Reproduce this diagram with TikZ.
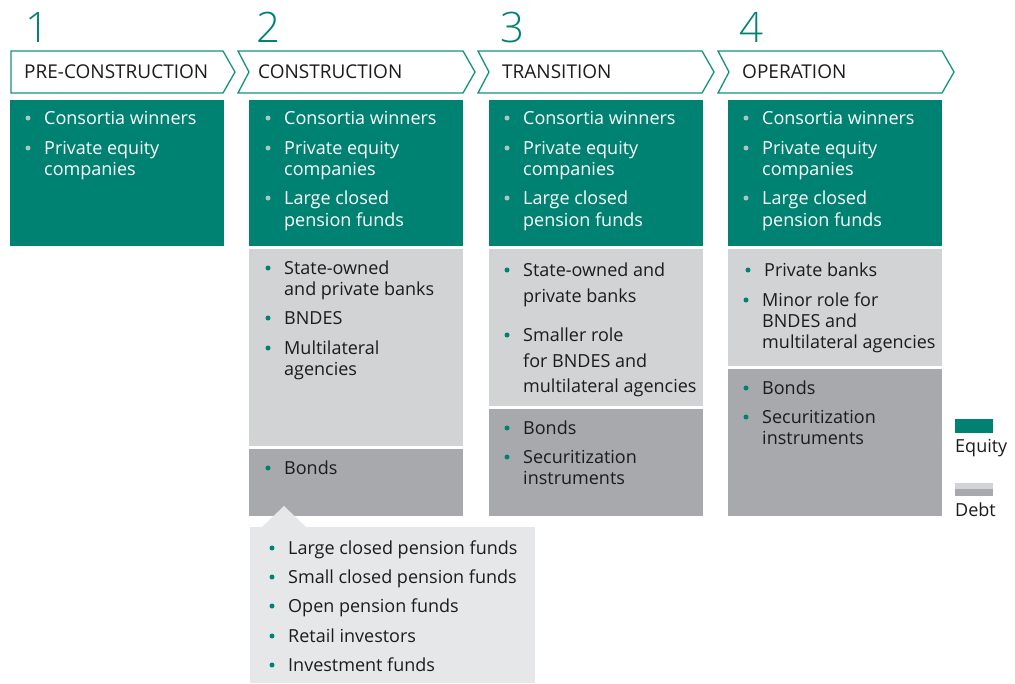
\documentclass[tikz,border=0pt]{standalone}
\usepackage{fontspec}
\setmainfont{Open Sans}
\newfontfamily\numfont{Open Sans Light}
\definecolor{eqgreen}{RGB}{0,130,114}
\definecolor{chevline}{RGB}{20,145,130}
\definecolor{eqdot}{RGB}{170,200,195}
\definecolor{lightdebt}{RGB}{209,211,212}
\definecolor{darkdebt}{RGB}{167,169,172}
\definecolor{popbg}{RGB}{230,231,232}
\definecolor{inkdark}{RGB}{30,27,28}

\tikzset{
  box/.style={anchor=north west, inner sep=0, outer sep=0, draw=none},
  chev/.style={draw=chevline, line width=1.3pt, fill=white, line join=miter},
  title/.style={anchor=base west, inner sep=0, font=\fontsize{19}{22}\selectfont, text=inkdark},
  num/.style={anchor=base west, inner sep=0, font=\numfont\fontsize{42}{46}\selectfont, text=eqgreen},
  txt/.style={anchor=base west, inner sep=0, font=\fontsize{18}{21}\selectfont, text=inkdark},
  dot/.style={circle, inner sep=0, minimum size=5pt, fill=eqgreen},
}

% bullet item: name, bullet x, line centre y, text
\newcommand\bul[4]{%
  \node[dot] (#1d) at (#2,#3) {};
  \node[txt] (#1) at (#2+16,#3+6) {#4};}
% continuation line of an item: name, bullet x, line centre y, text
\newcommand\cnt[4]{%
  \node[txt] (#1) at (#2+16,#3+6) {#4};}

\begin{document}
\begin{tikzpicture}[x=1pt,y=-1pt]
\useasboundingbox (0,0) rectangle (1015,683);

% stage numbers
\node[num] (n1) at (25,42) {1};
\node[num] (n2) at (256,42) {2};
\node[num] (n3) at (500,42) {3};
\node[num] (n4) at (739,42) {4};

% stage chevrons
\draw[chev] (11,51) -- (223,51) -- (235,72) -- (223,93) -- (11,93) -- cycle;
\draw[chev] (238,51) -- (463,51) -- (475,72) -- (463,93) -- (238,93) -- (249,72) -- cycle;
\draw[chev] (478,51) -- (702,51) -- (714,72) -- (702,93) -- (478,93) -- (489,72) -- cycle;
\draw[chev] (718,51) -- (942,51) -- (954,72) -- (942,93) -- (718,93) -- (729,72) -- cycle;
\node[title] (s1) at (24,78.5) {PRE-CONSTRUCTION};
\node[title] (s2) at (258,78.5) {CONSTRUCTION};
\node[title] (s3) at (502,78.5) {TRANSITION};
\node[title] (s4) at (742,78.5) {OPERATION};

% equity blocks
\node[box, fill=eqgreen, minimum width=214pt, minimum height=146pt] (eq1) at (10,100) {};
\node[box, fill=eqgreen, minimum width=214pt, minimum height=146pt] (eq2) at (249,100) {};
\node[box, fill=eqgreen, minimum width=214pt, minimum height=146pt] (eq3) at (489,100) {};
\node[box, fill=eqgreen, minimum width=214pt, minimum height=146pt] (eq4) at (728,100) {};

% debt blocks: bank lending (light) and capital markets (dark)
\node[box, fill=lightdebt, minimum width=214pt, minimum height=197pt] (ld2) at (249,249) {};
\node[box, fill=darkdebt, minimum width=214pt, minimum height=67pt] (dd2) at (249,449) {};
\node[box, fill=lightdebt, minimum width=214pt, minimum height=157pt] (ld3) at (489,249) {};
\node[box, fill=darkdebt, minimum width=214pt, minimum height=107pt] (dd3) at (489,409) {};
\node[box, fill=lightdebt, minimum width=214pt, minimum height=117pt] (ld4) at (728,249) {};
\node[box, fill=darkdebt, minimum width=214pt, minimum height=147pt] (dd4) at (728,369) {};

% bond investors call-out
\fill[popbg] (262,527) -- (284,506) -- (306,527) -- cycle;
\node[box, fill=popbg, minimum width=285pt, minimum height=156pt] (pop) at (250,527) {};

% equity investors
\begin{scope}[txt/.append style={text=white}, dot/.append style={fill=eqdot}]
  \foreach \bx/\c in {28/a,268/b,507/c,746/d} {
    \bul{e\c1}{\bx}{118}{Consortia winners}
    \bul{e\c2}{\bx}{148}{Private equity}
    \cnt{e\c3}{\bx}{169}{companies}
  }
  \foreach \bx/\c in {268/b,507/c,746/d} {
    \bul{e\c4}{\bx}{198}{Large closed}
    \cnt{e\c5}{\bx}{220}{pension funds}
  }
\end{scope}

% construction debt
\bul{b1}{268}{268}{State-owned}
\cnt{b2}{268}{289}{and private banks}
\bul{b3}{268}{318}{BNDES}
\bul{b4}{268}{348}{Multilateral}
\cnt{b5}{268}{369}{agencies}
\bul{b6}{268}{468}{Bonds}

% transition debt
\bul{c1}{507}{270}{State-owned and}
\cnt{c2}{507}{296}{private banks}
\bul{c3}{507}{335}{Smaller role}
\cnt{c4}{507}{361}{for BNDES and}
\cnt{c5}{507}{386}{multilateral agencies}
\bul{c6}{507}{428}{Bonds}
\bul{c7}{507}{457}{Securitization}
\cnt{c8}{507}{478}{instruments}

% operation debt
\bul{d1}{748}{270}{Private banks}
\bul{d2}{746}{300}{Minor role for}
\cnt{d3}{746}{321}{BNDES and}
\cnt{d4}{746}{342}{multilateral agencies}
\bul{d5}{746}{388}{Bonds}
\bul{d6}{746}{417}{Securitization}
\cnt{d7}{746}{438}{instruments}

% bond investors
\bul{p1}{272}{548}{Large closed pension funds}
\bul{p2}{272}{577}{Small closed pension funds}
\bul{p3}{272}{606}{Open pension funds}
\bul{p4}{272}{636}{Retail investors}
\bul{p5}{272}{665}{Investment funds}

% legend
\node[box, fill=eqgreen, minimum width=38pt, minimum height=14pt] (lgeq) at (955,419) {};
\node[txt] (lgeqt) at (955,452) {Equity};
\node[box, fill=lightdebt, minimum width=38pt, minimum height=6pt] (lgd1) at (955,483) {};
\node[box, fill=darkdebt, minimum width=38pt, minimum height=7pt] (lgd2) at (955,489) {};
\node[txt] (lgdt) at (955,516) {Debt};
\end{tikzpicture}
\end{document}
